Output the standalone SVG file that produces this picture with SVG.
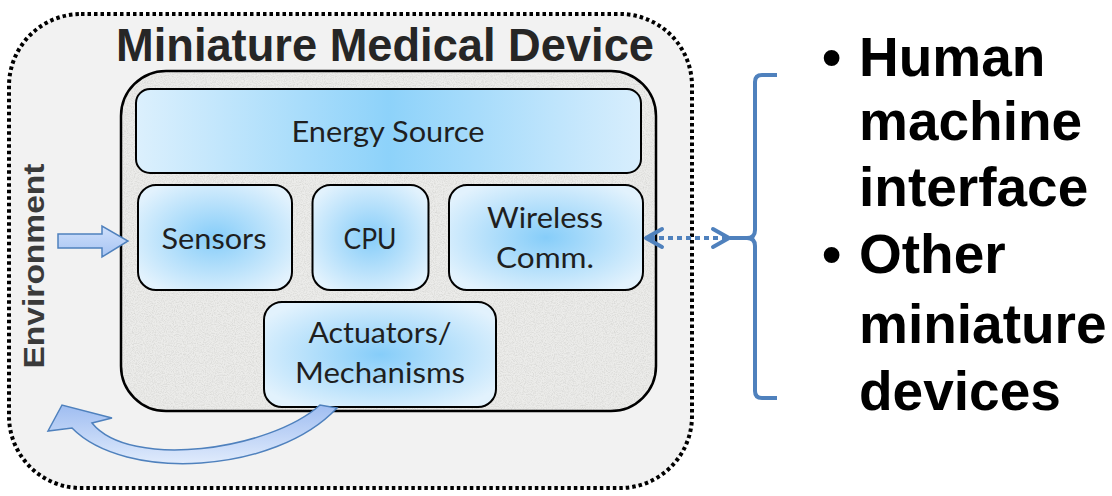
<svg xmlns="http://www.w3.org/2000/svg" width="1112" height="496" viewBox="0 0 1112 496">
<style>
.lbl{font-family:Lato,"Open Sans","Liberation Sans",sans-serif;font-size:29px;fill:#1f1f1f;text-anchor:middle}
.box{stroke:#000;stroke-width:2;fill:url(#boxg)}
.big{font-family:"Liberation Sans",Arial,sans-serif;font-weight:bold;font-size:55px;fill:#000}
.blue{stroke:#4f81bd;fill:none;stroke-width:4}
</style>
<defs>
<radialGradient id="boxg" cx="0.5" cy="0.5" r="0.6">
<stop offset="0" stop-color="#86cdf9"/>
<stop offset="1" stop-color="#e2f2fd"/>
</radialGradient>
<linearGradient id="energyg" x1="0" y1="0" x2="1" y2="0">
<stop offset="0" stop-color="#dcf0fd"/>
<stop offset="0.5" stop-color="#8dd2fa"/>
<stop offset="1" stop-color="#d8eefd"/>
</linearGradient>
<linearGradient id="arrg" x1="0" y1="0" x2="0" y2="1">
<stop offset="0" stop-color="#cfe0fb"/>
<stop offset="1" stop-color="#a7c4f3"/>
</linearGradient>
<linearGradient id="curveg" x1="0" y1="0" x2="0" y2="1">
<stop offset="0" stop-color="#9fbdf1"/>
<stop offset="1" stop-color="#e0ebfc"/>
</linearGradient>
<filter id="grain" x="0" y="0" width="100%" height="100%">
<feTurbulence type="fractalNoise" baseFrequency="0.9" numOctaves="3" seed="5" result="n"/>
<feColorMatrix in="n" type="matrix" values="0 0 0 0 0.6  0 0 0 0 0.6  0 0 0 0 0.58  1.2 0 0 0 -0.45" result="g"/>
<feComposite in="g" in2="SourceGraphic" operator="in"/>
</filter>
</defs>

<g id="outer">
<rect x="9" y="14" width="683" height="474" rx="72" ry="72" fill="#f2f2f2" stroke="#000" stroke-width="4" stroke-dasharray="3.5 3"/>
<text x="385" y="61" font-family="'Liberation Sans',Arial,sans-serif" font-weight="bold" font-size="46" fill="#262626" text-anchor="middle" textLength="538" lengthAdjust="spacingAndGlyphs">Miniature Medical Device</text>
</g>

<g id="environment">
<text transform="translate(44,266) rotate(-90)" x="0" y="0" font-family="'Liberation Sans',Arial,sans-serif" font-weight="bold" font-size="30" fill="#3a3a3a" text-anchor="middle" textLength="205" lengthAdjust="spacingAndGlyphs">Environment</text>
</g>

<g id="device">
<rect x="121" y="71" width="535" height="340" rx="45" ry="45" fill="#ececea"/>
<rect x="121" y="71" width="535" height="340" rx="45" ry="45" fill="#fff" filter="url(#grain)"/>
<rect x="121" y="71" width="535" height="340" rx="45" ry="45" fill="none" stroke="#000" stroke-width="2.5"/>
</g>

<g id="energy">
<rect x="136" y="89" width="505" height="84" rx="14" fill="url(#energyg)" stroke="#000" stroke-width="2"/>
<text class="lbl" x="388" y="142" textLength="193" lengthAdjust="spacingAndGlyphs">Energy Source</text>
</g>

<g id="sensors">
<rect class="box" x="138" y="185" width="154" height="105" rx="18"/>
<text class="lbl" x="214" y="249" textLength="105" lengthAdjust="spacingAndGlyphs">Sensors</text>
</g>

<g id="cpu">
<rect class="box" x="312.5" y="185" width="116" height="105" rx="18"/>
<text class="lbl" x="370" y="249" textLength="53" lengthAdjust="spacingAndGlyphs">CPU</text>
</g>

<g id="wireless">
<rect class="box" x="449" y="185" width="194" height="105" rx="18"/>
<text class="lbl" x="545" y="228" textLength="116" lengthAdjust="spacingAndGlyphs">Wireless</text>
<text class="lbl" x="545" y="268" textLength="98" lengthAdjust="spacingAndGlyphs">Comm.</text>
</g>

<g id="actuators">
<rect class="box" x="264" y="302" width="232" height="105" rx="18"/>
<text class="lbl" x="380" y="343" textLength="143" lengthAdjust="spacingAndGlyphs">Actuators/</text>
<text class="lbl" x="380" y="383" textLength="170" lengthAdjust="spacingAndGlyphs">Mechanisms</text>
</g>

<g id="connectors">
<path d="M58 234 L102 234 L102 226 L128 241 L102 257 L102 248 L58 248 Z" fill="url(#arrg)" stroke="#4f81bd" stroke-width="1.5" stroke-linejoin="miter"/>
<path d="M320 405 C270 450 130 470 92 423 L112 418 L62 405 L48 431 L72 428 C125 482 275 474 337 408 Z" fill="url(#curveg)" stroke="#4f81bd" stroke-width="1.5" stroke-linejoin="miter"/>
<line x1="650" y1="238" x2="726" y2="238" class="blue" stroke-dasharray="5 4"/>
<polyline points="662,229 646,238 662,247" class="blue" stroke-linecap="round" stroke-linejoin="round"/>
<polyline points="713,229 729,238 713,247" class="blue" stroke-linecap="round" stroke-linejoin="round"/>
<path d="M777 75 L762 75 Q755 75 755 82 L755 230 Q755 238 747 238 L730 238 M747 238 Q755 238 755 246 L755 391 Q755 398 762 398 L777 398" class="blue" stroke-linecap="butt"/>
</g>

<g id="targets">
<text class="big" x="822" y="76">•</text>
<text class="big" x="859" y="76">Human</text>
<text class="big" x="859" y="140">machine</text>
<text class="big" x="859" y="206">interface</text>
<text class="big" x="822" y="273">•</text>
<text class="big" x="859" y="273">Other</text>
<text class="big" x="859" y="343">miniature</text>
<text class="big" x="859" y="410">devices</text>
</g>
</svg>
